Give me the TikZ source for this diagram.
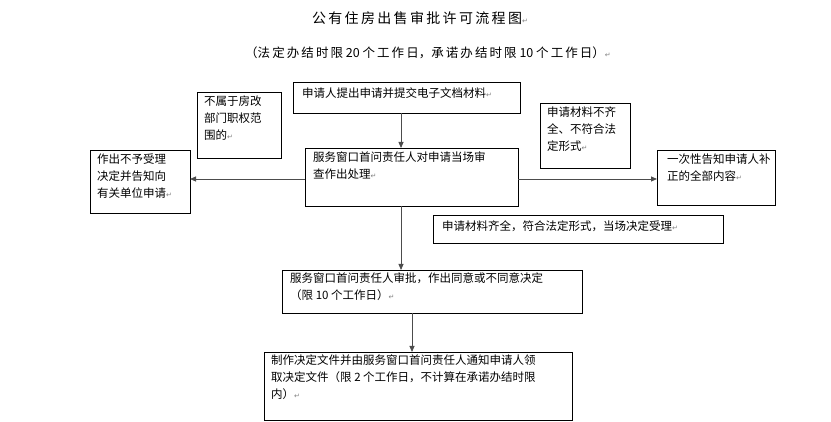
\documentclass[tikz,border=0pt]{standalone}
\usepackage{fontspec}
\setmainfont{Noto Sans CJK SC}
\newfontfamily\djfont{DejaVu Sans}
\usetikzlibrary{arrows.meta}
\newcommand{\parmark}{{\djfont\color{gray}\fontsize{7}{7}\selectfont ↵}}
\begin{document}
\begin{tikzpicture}[x=1pt,y=-1pt,
 bx/.style={draw,line width=0.6pt,inner sep=0pt,outer sep=0pt},
 tx/.style={anchor=north west,align=left,inner sep=0pt,font=\fontsize{11.5}{17}\selectfont},
 ar/.style={draw=black!70,line width=0.8pt,-{Triangle[length=6pt,width=5pt]}}]
\useasboundingbox (0,0) rectangle (831,422);
\node[font=\fontsize{14}{14}\selectfont] (t) at (420,18) {公\,有\,住\,房\,出\,售\,审\,批\,许\,可\,流\,程\,图\parmark};
\node[font=\fontsize{12.5}{13}\selectfont] (s) at (428,53) {（法\,定\,办\,结\,时\,限 20 个\,工\,作\,日，承\,诺\,办\,结\,时\,限 10 个\,工\,作\,日）\parmark};
\draw[bx] (293,82) rectangle (520,113);
\node[tx] (n1) at (302,88) {申请人提出申请并提交电子文档材料\parmark};
\coordinate (a) at (401,113);
\draw[bx] (197,92) rectangle (281,158);
\node[tx] (n2) at (204,96) {不属于房改\\部门职权范\\围的\parmark};
\draw[bx] (90,150) rectangle (190,213);
\node[tx] (n3) at (97,154) {作出不予受理\\决定并告知向\\有关单位申请\parmark};
\coordinate (lb) at (190,179);
\draw[bx] (305,148) rectangle (518,206);
\node[tx] (n4) at (313,152) {服务窗口首问责任人对申请当场审\\查作出处理\parmark};
\coordinate (ct) at (401,148); \coordinate (cl) at (305,179);
\coordinate (cr) at (518,179); \coordinate (cb) at (401,206);
\draw[bx] (540,103) rectangle (630,168);
\node[tx] (n5) at (547,107) {申请材料不齐\\全、不符合法\\定形式\parmark};
\draw[bx] (657,150) rectangle (775,205);
\node[tx] (n6) at (667,154) {一次性告知申请人补\\正的全部内容\parmark};
\coordinate (rb) at (657,179);
\draw[bx] (433,215) rectangle (723,243);
\node[tx] (n7) at (442,221) {申请材料齐全，符合法定形式，当场决定受理\parmark};
\draw[bx] (282,270) rectangle (582,313);
\node[tx] (n8) at (290,273) {服务窗口首问责任人审批，作出同意或不同意决定\\（限 10 个工作日）\parmark};
\coordinate (pt) at (401,270); \coordinate (pb) at (412,313);
\draw[bx] (264,352) rectangle (572,420);
\node[tx] (n9) at (271,355) {制作决定文件并由服务窗口首问责任人通知申请人领\\取决定文件（限 2 个工作日，不计算在承诺办结时限\\内）\parmark};
\coordinate (ft) at (412,352);
\draw[ar] (a) -- (ct);
\draw[ar] (cl) -- (lb);
\draw[ar] (cr) -- (rb);
\draw[ar] (cb) -- (pt);
\draw[ar] (pb) -- (ft);
\end{tikzpicture}
\end{document}
